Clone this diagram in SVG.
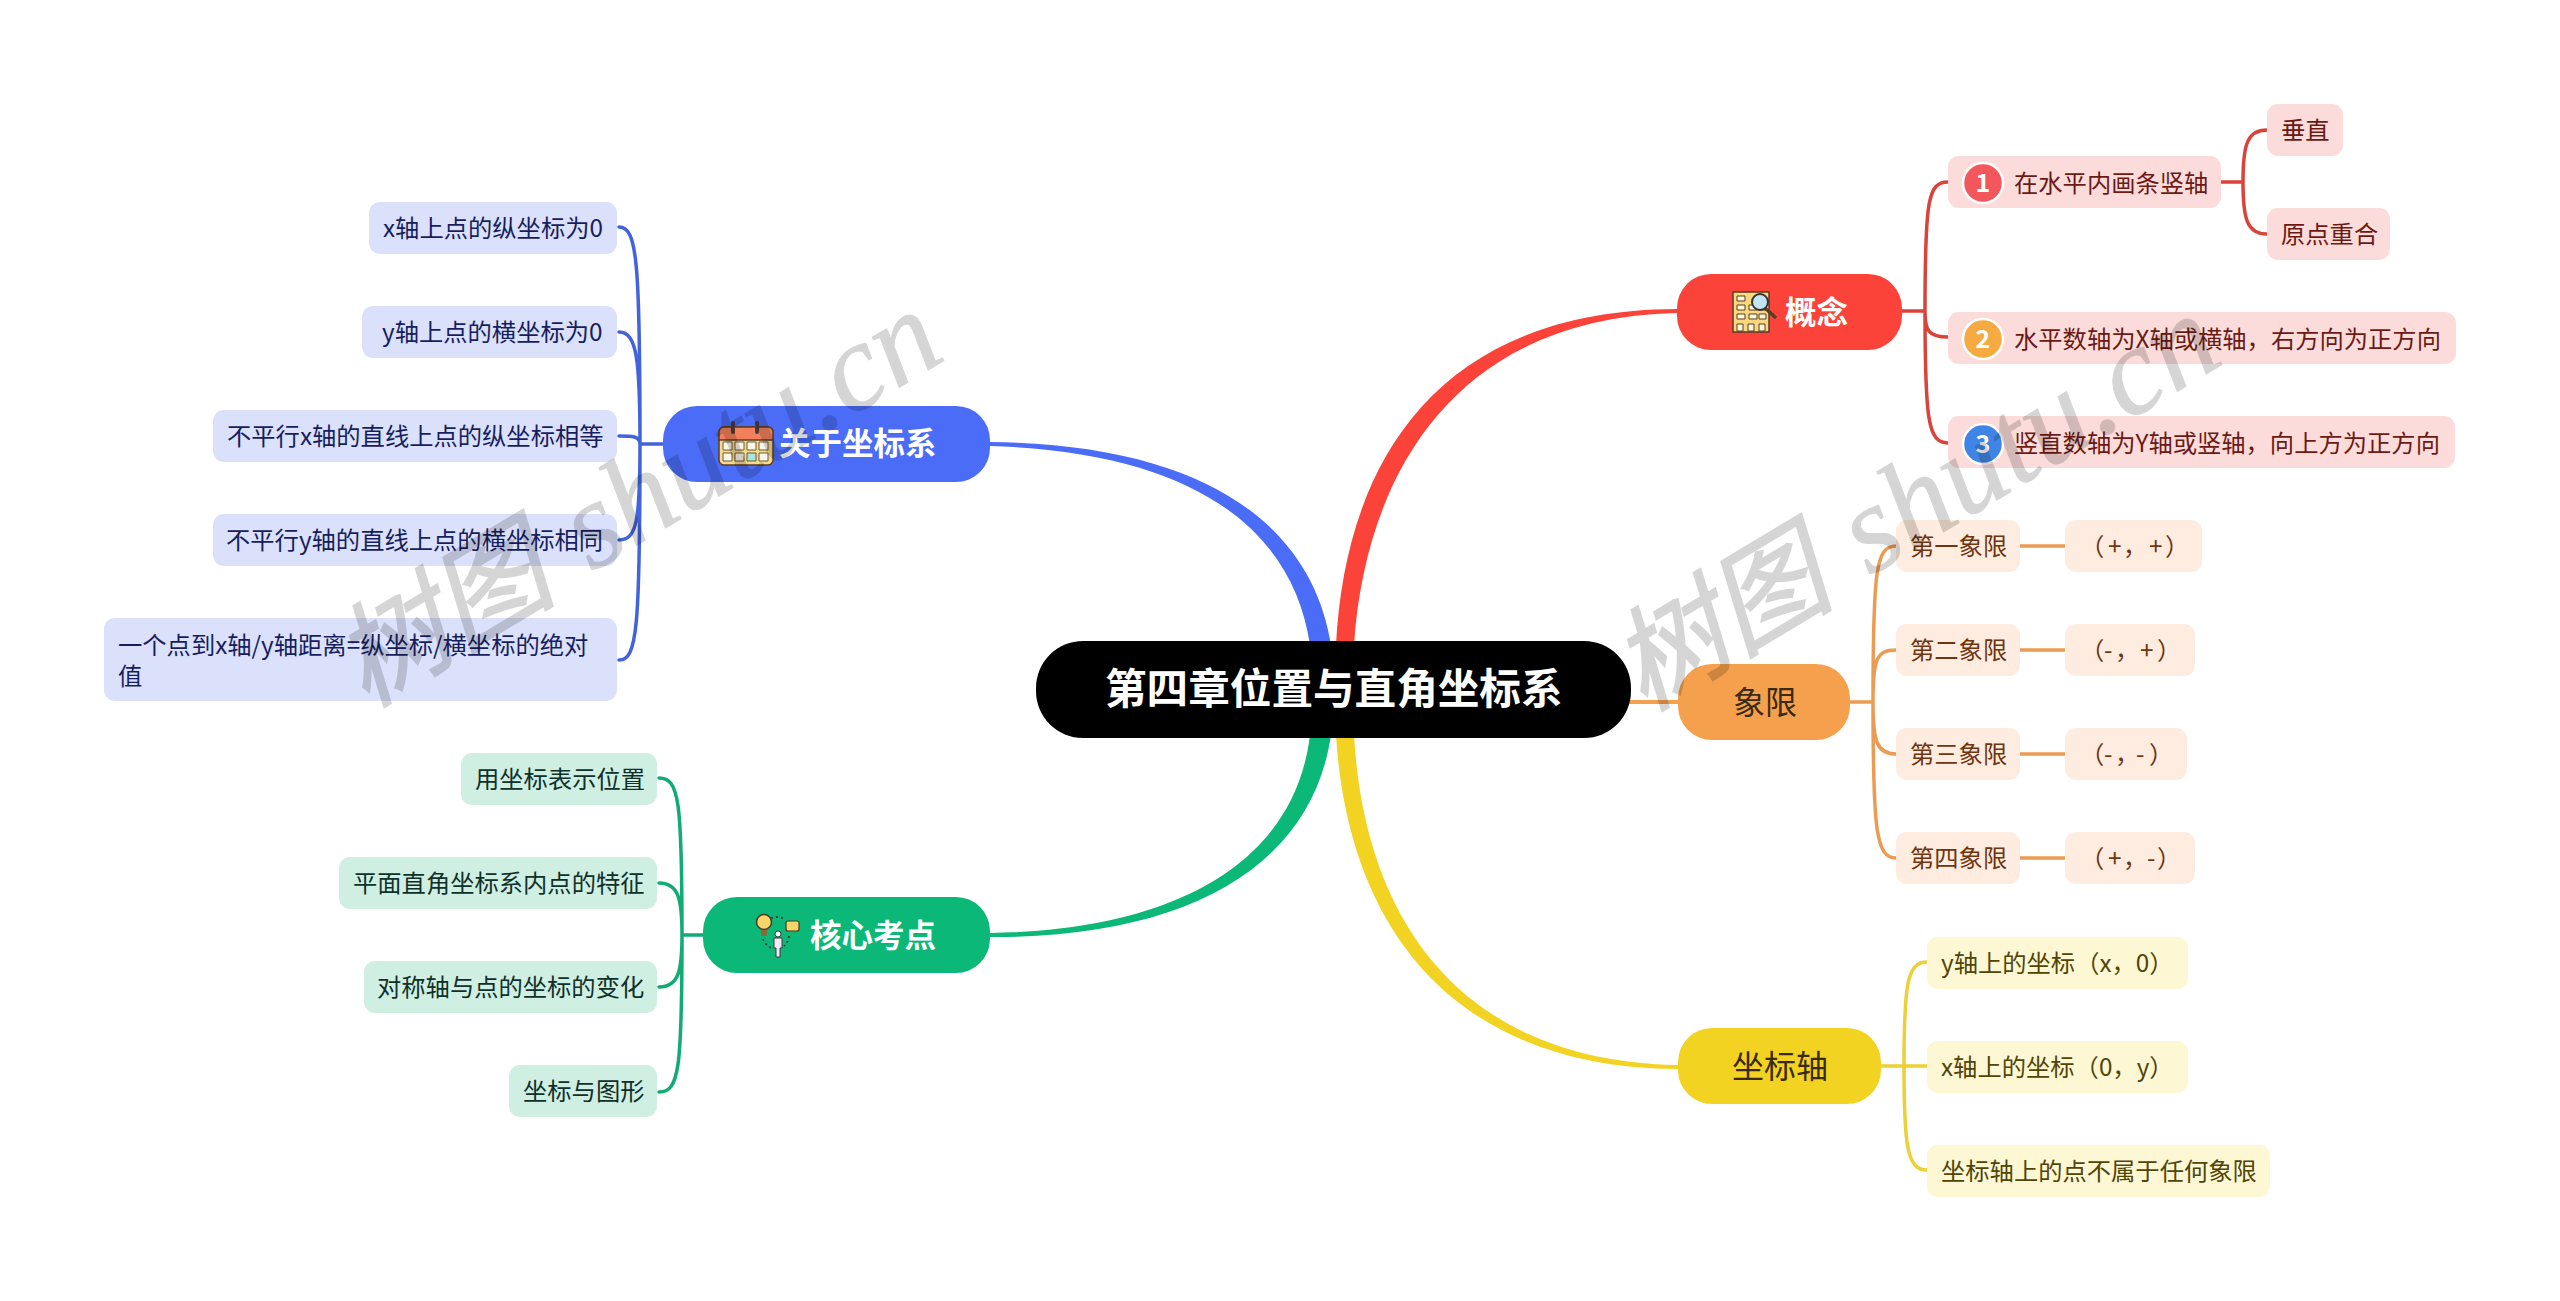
<svg xmlns="http://www.w3.org/2000/svg" width="2560" height="1301" viewBox="0 0 2560 1301">
<style>
text{font-family:"Noto Sans CJK SC","Noto Sans",sans-serif;font-size:24.3px}
.main{font-size:31.5px;font-weight:700;fill:#fff}
.plain{font-size:32px;fill:#3a2a10}
.root{font-size:41.6px;font-weight:700;fill:#fff}
.c{fill:none;stroke-width:3.5;stroke-linecap:round}
.r{stroke:#d9433a}.b{stroke:#4263dc}.o{stroke:#ec9b52}.y{stroke:#ecd035}.g{stroke:#12ab76}
.lr{fill:#fcdcdb}.lb{fill:#dbe1fb}.lo{fill:#fdecdf}.ly{fill:#fdf7d4}.lg{fill:#cfefe3}
.tr{fill:#6b1a14}.tb{fill:#171e60}.to{fill:#6e3510}.ty{fill:#514507}.tg{fill:#10302a}
.digit{font-size:25px;font-weight:700;fill:#fff;text-anchor:middle}
.wm{font-family:"Liberation Serif","Noto Sans CJK SC",serif;font-size:112px;font-style:italic;fill:#000;stroke:#000;stroke-width:2;opacity:.16}
.wm tspan{font-size:124px;stroke-width:1}
.ic{stroke:#5a3d25;stroke-width:1.5}
</style>
<g id="connectors">
<path fill="#fb4339" d="M1336,645C1345,470 1430,310 1677,309L1677,313C1450,318 1365,480 1354,645Z"/>
<path fill="#4a6cf7" d="M990,442C1205,444 1312,525 1331,645L1310,645C1293,530 1195,452 990,446Z"/>
<path fill="#0bb878" d="M990,933C1180,930 1295,860 1310,735L1331,735C1312,865 1190,938 990,937Z"/>
<path fill="#f2d321" d="M1354,735C1365,930 1470,1062 1678,1065L1678,1069C1455,1068 1348,930 1336,735Z"/>
<path fill="none" stroke="#f5a04c" stroke-width="4" d="M1628,702H1680"/>
<path class="c r" d="M1902,311H1925M1925,311C1925,200 1928,182 1948,182M1925,311C1925,330 1928,337 1948,337M1925,311C1925,420 1928,443 1948,443M2221,182H2243M2243,182C2243,145 2247,130 2267,130M2243,182C2243,219 2247,234 2267,234"/>
<path class="c o" d="M1850,702H1873M1873,702C1873,570 1876,546 1896,546M1873,702C1873,660 1876,650 1896,650M1873,702C1873,740 1876,754 1896,754M1873,702C1873,830 1876,858 1896,858M2020,546H2065M2020,650H2065M2020,754H2065M2020,858H2065"/>
<path class="c y" d="M1881,1066H1927M1904,1066C1904,985 1907,962 1927,962M1904,1066C1904,1146 1907,1170 1927,1170"/>
<path class="c b" d="M663,444H640M640,444C640,260 637,227 619,227M640,444C640,360 637,332 619,332M640,444C640,436 632,436 619,436M640,444C640,520 637,540 619,540M640,444C640,630 637,660 619,660"/>
<path class="c g" d="M703,935H682M682,935C682,800 679,778 659,778M682,935C682,900 679,883 659,883M682,935C682,970 679,987 659,987M682,935C682,1070 679,1092 659,1092"/>
</g>
<g id="root"><rect x="1036" y="641" width="595" height="97" rx="47" fill="#000"/><text class="root" x="1105" y="704">第四章位置与直角坐标系</text></g>
<g id="n-concept"><rect x="1677" y="274" width="225" height="76" rx="34" fill="#fb4339"/>
<rect x="1733" y="292" width="36" height="40" fill="#f7d77f" class="ic"/>
<path fill="#fff6d8" stroke="#5a3d25" stroke-width="1" d="M1737,296h8v5h-8zM1737,305h8v5h-8zM1749,305h8v5h-8zM1759,305h7v5h-7zM1737,314h8v5h-8zM1749,314h8v5h-8zM1759,314h7v5h-7zM1737,324h6v7h-6zM1748,324h6v7h-6zM1759,324h6v7h-6z"/>
<path d="M1765,308L1776,318" stroke="#5a3d25" stroke-width="3.5"/><circle cx="1760" cy="302" r="8" fill="#bfe6f2" stroke="#3c3030" stroke-width="2"/>
<text class="main" x="1785" y="324">概念</text></g>
<g id="n-c1"><rect x="1948" y="156" width="273" height="52" rx="11" class="lr"/><circle cx="1983" cy="183" r="20" fill="#f4575b" stroke="#fff" stroke-width="2.5"/><text class="digit" x="1983" y="192">1</text><text class="tr" x="2014" y="192">在水平内画条竖轴</text></g>
<g id="n-c11"><rect x="2267" y="104" width="76" height="52" rx="11" class="lr"/><text class="tr" x="2281" y="139">垂直</text></g>
<g id="n-c12"><rect x="2267" y="208" width="123" height="52" rx="11" class="lr"/><text class="tr" x="2281" y="243">原点重合</text></g>
<g id="n-c2"><rect x="1948" y="312" width="508" height="52" rx="11" class="lr"/><circle cx="1983" cy="339" r="20" fill="#f6ab42" stroke="#fff" stroke-width="2.5"/><text class="digit" x="1983" y="348">2</text><text class="tr" x="2014" y="348">水平数轴为X轴或横轴，右方向为正方向</text></g>
<g id="n-c3"><rect x="1948" y="416" width="507" height="52" rx="11" class="lr"/><circle cx="1983" cy="444" r="20" fill="#3f85e8" stroke="#fff" stroke-width="2.5"/><text class="digit" x="1983" y="453">3</text><text class="tr" x="2014" y="452">竖直数轴为Y轴或竖轴，向上方为正方向</text></g>
<g id="n-quad"><rect x="1678" y="664" width="172" height="76" rx="34" fill="#f5a04c"/><text class="plain" x="1733" y="714">象限</text></g>
<g id="n-q1"><rect x="1896" y="520" width="124" height="52" rx="11" class="lo"/><text class="to" x="1910" y="555">第一象限</text></g>
<g id="n-q2"><rect x="1896" y="624" width="124" height="52" rx="11" class="lo"/><text class="to" x="1910" y="659">第二象限</text></g>
<g id="n-q3"><rect x="1896" y="728" width="124" height="52" rx="11" class="lo"/><text class="to" x="1910" y="763">第三象限</text></g>
<g id="n-q4"><rect x="1896" y="832" width="124" height="52" rx="11" class="lo"/><text class="to" x="1910" y="867">第四象限</text></g>
<g id="n-q1v"><rect x="2065" y="520" width="137" height="52" rx="11" class="lo"/><text class="to" x="2080 2108 2123 2149 2165" y="555">（+，+）</text></g>
<g id="n-q2v"><rect x="2065" y="624" width="130" height="52" rx="11" class="lo"/><text class="to" x="2080 2104 2115 2140 2157" y="659">（-，+）</text></g>
<g id="n-q3v"><rect x="2065" y="728" width="122" height="52" rx="11" class="lo"/><text class="to" x="2080 2104 2115 2136 2149" y="763">（-，-）</text></g>
<g id="n-q4v"><rect x="2065" y="832" width="130" height="52" rx="11" class="lo"/><text class="to" x="2080 2108 2123 2147 2157" y="867">（+，-）</text></g>
<g id="n-axis"><rect x="1678" y="1028" width="203" height="76" rx="34" fill="#f2d321"/><text class="plain" x="1732" y="1078">坐标轴</text></g>
<g id="n-a1"><rect x="1927" y="937" width="261" height="52" rx="11" class="ly"/><text class="ty" x="1941" y="972">y轴上的坐标（x，0）</text></g>
<g id="n-a2"><rect x="1927" y="1041" width="261" height="52" rx="11" class="ly"/><text class="ty" x="1941" y="1076">x轴上的坐标（0，y）</text></g>
<g id="n-a3"><rect x="1927" y="1145" width="343" height="52" rx="11" class="ly"/><text class="ty" x="1941" y="1180">坐标轴上的点不属于任何象限</text></g>
<g id="n-about"><rect x="663" y="406" width="327" height="76" rx="34" fill="#4a6cf7"/>
<rect x="719" y="427" width="54" height="38" rx="5" fill="#f8d98a" class="ic"/><path d="M719,440v-8a5,5 0 0 1 5,-5h44a5,5 0 0 1 5,5v8z" fill="#f2805c" class="ic"/>
<path d="M733,423v9M757,423v9" stroke="#4a3a3a" stroke-width="4" stroke-linecap="round"/>
<path fill="#fbf6ea" stroke="#6b5a3a" stroke-width="1" d="M723,442h9v8h-9zM735,442h9v8h-9zM747,442h9v8h-9zM759,442h9v8h-9zM723,453h9v8h-9zM735,453h9v8h-9zM759,453h9v8h-9z"/><path fill="#a8e4e0" stroke="#6b5a3a" stroke-width="1" d="M747,453h9v8h-9z"/>
<text class="main" x="779" y="455">关于坐标系</text></g>
<g id="n-b1"><rect x="369" y="202" width="248" height="52" rx="11" class="lb"/><text class="tb" x="383" y="237">x轴上点的纵坐标为0</text></g>
<g id="n-b2"><rect x="362" y="306" width="255" height="52" rx="11" class="lb"/><text class="tb" x="382" y="341">y轴上点的横坐标为0</text></g>
<g id="n-b3"><rect x="213" y="410" width="404" height="52" rx="11" class="lb"/><text class="tb" x="227" y="445">不平行x轴的直线上点的纵坐标相等</text></g>
<g id="n-b4"><rect x="213" y="514" width="404" height="52" rx="11" class="lb"/><text class="tb" x="226" y="549">不平行y轴的直线上点的横坐标相同</text></g>
<g id="n-b5"><rect x="104" y="618" width="513" height="83" rx="11" class="lb"/><text class="tb" x="118" y="654">一个点到x轴/y轴距离=纵坐标/横坐标的绝对</text><text class="tb" x="118" y="685">值</text></g>
<g id="n-core"><rect x="703" y="897" width="287" height="76" rx="34" fill="#0bb878"/>
<circle cx="764" cy="922" r="7.5" fill="#f6d56b" stroke="#4a3a20" stroke-width="1.5"/><path d="M761,930h6v6h-6z" fill="#8a6a3a"/>
<path d="M771,918a20,20 0 0 1 14,1M763,939a18,18 0 0 0 8,9M789,936a16,16 0 0 1 -5,10" fill="none" stroke="#2a3a2a" stroke-width="1.8" stroke-dasharray="2 3"/>
<rect x="786" y="921" width="13" height="10" rx="2" fill="#f6d56b" stroke="#4a3a20" stroke-width="1.2"/>
<circle cx="778" cy="934" r="3" fill="#fff" stroke="#3a3a3a"/><path d="M774,938h8v10h-2v9h-4v-9h-2z" fill="#f3e8f5" stroke="#3a3a3a"/>
<text class="main" x="810" y="947">核心考点</text></g>
<g id="n-g1"><rect x="461" y="753" width="196" height="52" rx="11" class="lg"/><text class="tg" x="475" y="788">用坐标表示位置</text></g>
<g id="n-g2"><rect x="339" y="857" width="318" height="52" rx="11" class="lg"/><text class="tg" x="353" y="892">平面直角坐标系内点的特征</text></g>
<g id="n-g3"><rect x="364" y="961" width="293" height="52" rx="11" class="lg"/><text class="tg" x="377" y="996">对称轴与点的坐标的变化</text></g>
<g id="n-g4"><rect x="509" y="1065" width="148" height="52" rx="11" class="lg"/><text class="tg" x="523" y="1100">坐标与图形</text></g>
<g id="watermarks"><text class="wm" transform="translate(366,708) rotate(-31)">树图<tspan dx="8"> shutu.cn</tspan></text><text class="wm" transform="translate(1644,712) rotate(-31)">树图<tspan dx="8"> shutu.cn</tspan></text></g>
</svg>
